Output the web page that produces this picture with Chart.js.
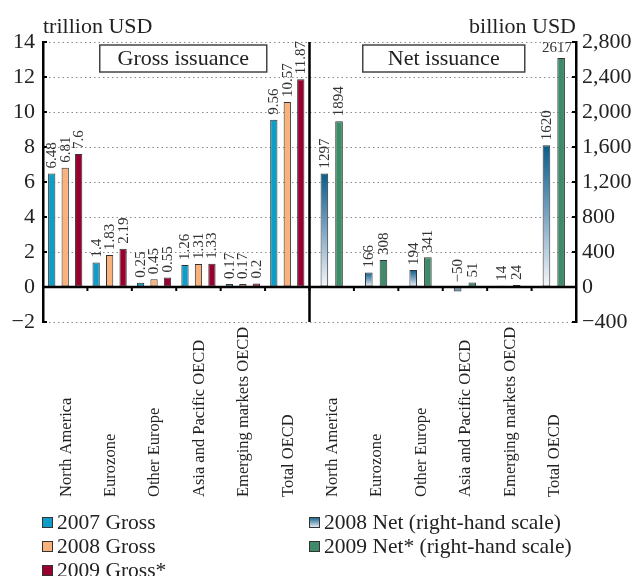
<!DOCTYPE html>
<html>
<head>
<meta charset="utf-8">
<script src="https://cdn.jsdelivr.net/npm/chart.js@4.4.1/dist/chart.umd.min.js"></script>
<style>
  body { margin: 0; background: #fff; }
  canvas { display: block; }
</style>
</head>
<body>
<canvas id="grafico" width="636" height="576"></canvas>
<script>
// categories (same six for both panels)
const regions = ['North America', 'Eurozone', 'Other Europe', 'Asia and Pacific OECD', 'Emerging markets OECD', 'Total OECD'];

// gross issuance, trillion USD (left scale)
const gross2007 = [6.48, 1.4, 0.25, 1.26, 0.17, 9.56];
const gross2008 = [6.81, 1.83, 0.45, 1.31, 0.17, 10.57];
const gross2009 = [7.6, 2.19, 0.55, 1.33, 0.2, 11.87];

// net issuance, billion USD (right scale)
const net2008 = [1297, 166, 194, -50, 14, 1620];
const net2009 = [1894, 308, 341, 51, 24, 2617];

// axis ticks
const leftTicks = [-2, 0, 2, 4, 6, 8, 10, 12, 14];
const rightTicks = [-400, 0, 400, 800, 1200, 1600, 2000, 2400, 2800];

const panelTitles = ['Gross issuance', 'Net issuance'];
const unitLeft = 'trillion USD';
const unitRight = 'billion USD';

const serif = "'Liberation Serif', 'DejaVu Serif', serif";
const empty = regions.map(() => null);
const minus = s => String(s).replace('-', '\u2212');

Chart.defaults.font.family = serif;

function netGradient(ctx) {
  const chart = ctx.chart;
  const sc = chart.scales.y1;
  if (!sc || ctx.raw == null) return '#0a5c8a';
  const top = sc.getPixelForValue(ctx.raw);
  const base = sc.getPixelForValue(0);
  if (Math.abs(top - base) < 1) return '#0a5c8a';
  const g = chart.ctx.createLinearGradient(0, top, 0, base);
  g.addColorStop(0, '#0a5c8a');
  g.addColorStop(0.5, '#7ea5c3');
  g.addColorStop(1, '#f6f8fa');
  return g;
}

const grossOpts = { categoryPercentage: 0.91, barPercentage: 0.54, skipNull: true, borderWidth: 1, borderColor: '#333', borderSkipped: false, yAxisID: 'y' };
const netOpts = { categoryPercentage: 0.66, barPercentage: 0.52, skipNull: true, borderWidth: 1, borderColor: '#333', borderSkipped: false, yAxisID: 'y1' };

const datasets = [
  Object.assign({ label: '2007 Gross', data: gross2007.concat(empty), backgroundColor: '#0e9dc6' }, grossOpts),
  Object.assign({ label: '2008 Gross', data: gross2008.concat(empty), backgroundColor: '#f9b27c' }, grossOpts),
  Object.assign({ label: '2009 Gross*', data: gross2009.concat(empty), backgroundColor: '#97002f' }, grossOpts),
  Object.assign({ label: '2008 Net (right-hand scale)', data: empty.concat(net2008), backgroundColor: netGradient }, netOpts),
  Object.assign({ label: '2009 Net* (right-hand scale)', data: empty.concat(net2009), backgroundColor: '#3f8b69' }, netOpts)
];

// axes lines, value labels, category labels, title boxes, legend
const decor = {
  id: 'decor',
  afterDatasetsDraw(chart) {
    const c = chart.ctx;
    const area = chart.chartArea;
    const x = chart.scales.x, y = chart.scales.y, y1 = chart.scales.y1;
    const zero = y.getPixelForValue(0);
    const divider = (x.getPixelForValue(5) + x.getPixelForValue(6)) / 2;
    c.save();

    // zero line, divider
    c.strokeStyle = '#000';
    c.lineWidth = 2.5;
    c.beginPath();
    c.moveTo(area.left, zero); c.lineTo(area.right, zero);
    c.moveTo(divider, area.top); c.lineTo(divider, area.bottom);
    c.stroke();

    // small tick marks
    c.lineWidth = 2;
    c.beginPath();
    for (let i = 0; i <= 12; i++) {
      const px = i === 12 ? area.right : (i === 0 ? area.left : (x.getPixelForValue(i - 1) + x.getPixelForValue(i)) / 2);
      c.moveTo(px, zero); c.lineTo(px, zero + 4);
    }
    leftTicks.forEach(v => { const py = y.getPixelForValue(v); c.moveTo(area.left, py); c.lineTo(area.left + 4, py); });
    rightTicks.forEach(v => { const py = y1.getPixelForValue(v); c.moveTo(area.right - 4, py); c.lineTo(area.right, py); });
    c.stroke();

    // value labels
    c.fillStyle = '#333';
    c.font = '15px ' + serif;
    chart.data.datasets.forEach((ds, di) => {
      const meta = chart.getDatasetMeta(di);
      ds.data.forEach((v, i) => {
        if (v == null) return;
        const el = meta.data[i];
        const top = Math.min(el.y, el.base);
        const txt = minus(v);
        const w = c.measureText(txt).width;
        if (top - 4 - w < area.top - 4) {
          c.textAlign = 'center';
          c.textBaseline = 'bottom';
          c.fillText(txt, el.x - 4, top - 2);
        } else {
          c.save();
          c.translate(el.x + 0.5, top - 5);
          c.rotate(-Math.PI / 2);
          c.textAlign = 'left';
          c.textBaseline = 'middle';
          c.fillText(txt, 0, 0);
          c.restore();
        }
      });
    });

    // category labels
    c.fillStyle = '#222';
    c.font = '16.5px ' + serif;
    chart.data.labels.forEach((lab, i) => {
      c.save();
      c.translate(x.getPixelForValue(i) + 1, 497);
      c.rotate(-Math.PI / 2);
      c.textAlign = 'left';
      c.textBaseline = 'middle';
      c.fillText(lab, 0, 0);
      c.restore();
    });

    // units
    c.font = '22px ' + serif;
    c.textBaseline = 'alphabetic';
    c.textAlign = 'left';
    c.fillText(unitLeft, area.left, 33);
    c.textAlign = 'right';
    c.fillText(unitRight, area.right, 33);

    // title boxes
    const boxes = [
      { cx: (area.left + divider) / 2 + 7, w: 167 },
      { cx: (divider + area.right) / 2 + 1, w: 162 }
    ];
    boxes.forEach((b, i) => {
      c.fillStyle = '#fff';
      c.fillRect(b.cx - b.w / 2, area.top + 3, b.w, 27);
      c.strokeStyle = '#444';
      c.lineWidth = 1.5;
      c.strokeRect(b.cx - b.w / 2, area.top + 3, b.w, 27);
      c.fillStyle = '#222';
      c.textAlign = 'center';
      c.textBaseline = 'middle';
      c.fillText(panelTitles[i], b.cx, area.top + 17);
    });

    // legend in two columns
    const cols = [{ x: 42, items: [0, 1, 2] }, { x: 309, items: [3, 4] }];
    c.font = '21.5px ' + serif;
    c.textAlign = 'left';
    c.textBaseline = 'middle';
    cols.forEach(col => {
      col.items.forEach((di, r) => {
        const ds = chart.data.datasets[di];
        const cy = 522.5 + r * 24;
        let fill = ds.backgroundColor;
        if (typeof fill === 'function') {
          fill = c.createLinearGradient(0, cy - 5.5, 0, cy + 5.5);
          fill.addColorStop(0, '#0a5c8a');
          fill.addColorStop(1, '#f6f8fa');
        }
        c.fillStyle = fill;
        c.fillRect(col.x, cy - 5.5, 11, 11);
        c.strokeStyle = '#333';
        c.lineWidth = 1;
        c.strokeRect(col.x + 0.5, cy - 5, 10, 10);
        c.fillStyle = '#222';
        c.fillText(ds.label, col.x + 15, cy + 1);
      });
    });
    c.restore();
  }
};

new Chart(document.getElementById('grafico'), {
  type: 'bar',
  data: {
    labels: regions.concat(regions),
    datasets: datasets
  },
  options: {
    responsive: false,
    animation: false,
    devicePixelRatio: 1,
    layout: { padding: { top: 42, left: 0, right: 0, bottom: 0 } },
    plugins: { legend: { display: false }, tooltip: { enabled: false } },
    scales: {
      x: {
        ticks: { display: false },
        grid: { display: false },
        border: { display: false },
        afterFit: s => { s.height = 254; }
      },
      y: {
        position: 'left',
        min: -2, max: 14,
        afterBuildTicks: s => { s.ticks = leftTicks.map(v => ({ value: v })); },
        ticks: { callback: v => minus(v), font: { size: 22 }, color: '#222', padding: 8 },
        grid: { color: '#8a8a8a', lineWidth: 1, drawTicks: false },
        border: { color: '#000', width: 2.5, dash: [1.5, 3] },
        afterFit: s => { s.width = 43; }
      },
      y1: {
        position: 'right',
        min: -400, max: 2800,
        afterBuildTicks: s => { s.ticks = rightTicks.map(v => ({ value: v })); },
        ticks: { callback: v => minus(v.toLocaleString('en-US')), font: { size: 22 }, color: '#222', padding: 6 },
        grid: { drawOnChartArea: false, drawTicks: false },
        border: { color: '#000', width: 2.5 },
        afterFit: s => { s.width = 60; }
      }
    }
  },
  plugins: [decor]
});
</script>
</body>
</html>
